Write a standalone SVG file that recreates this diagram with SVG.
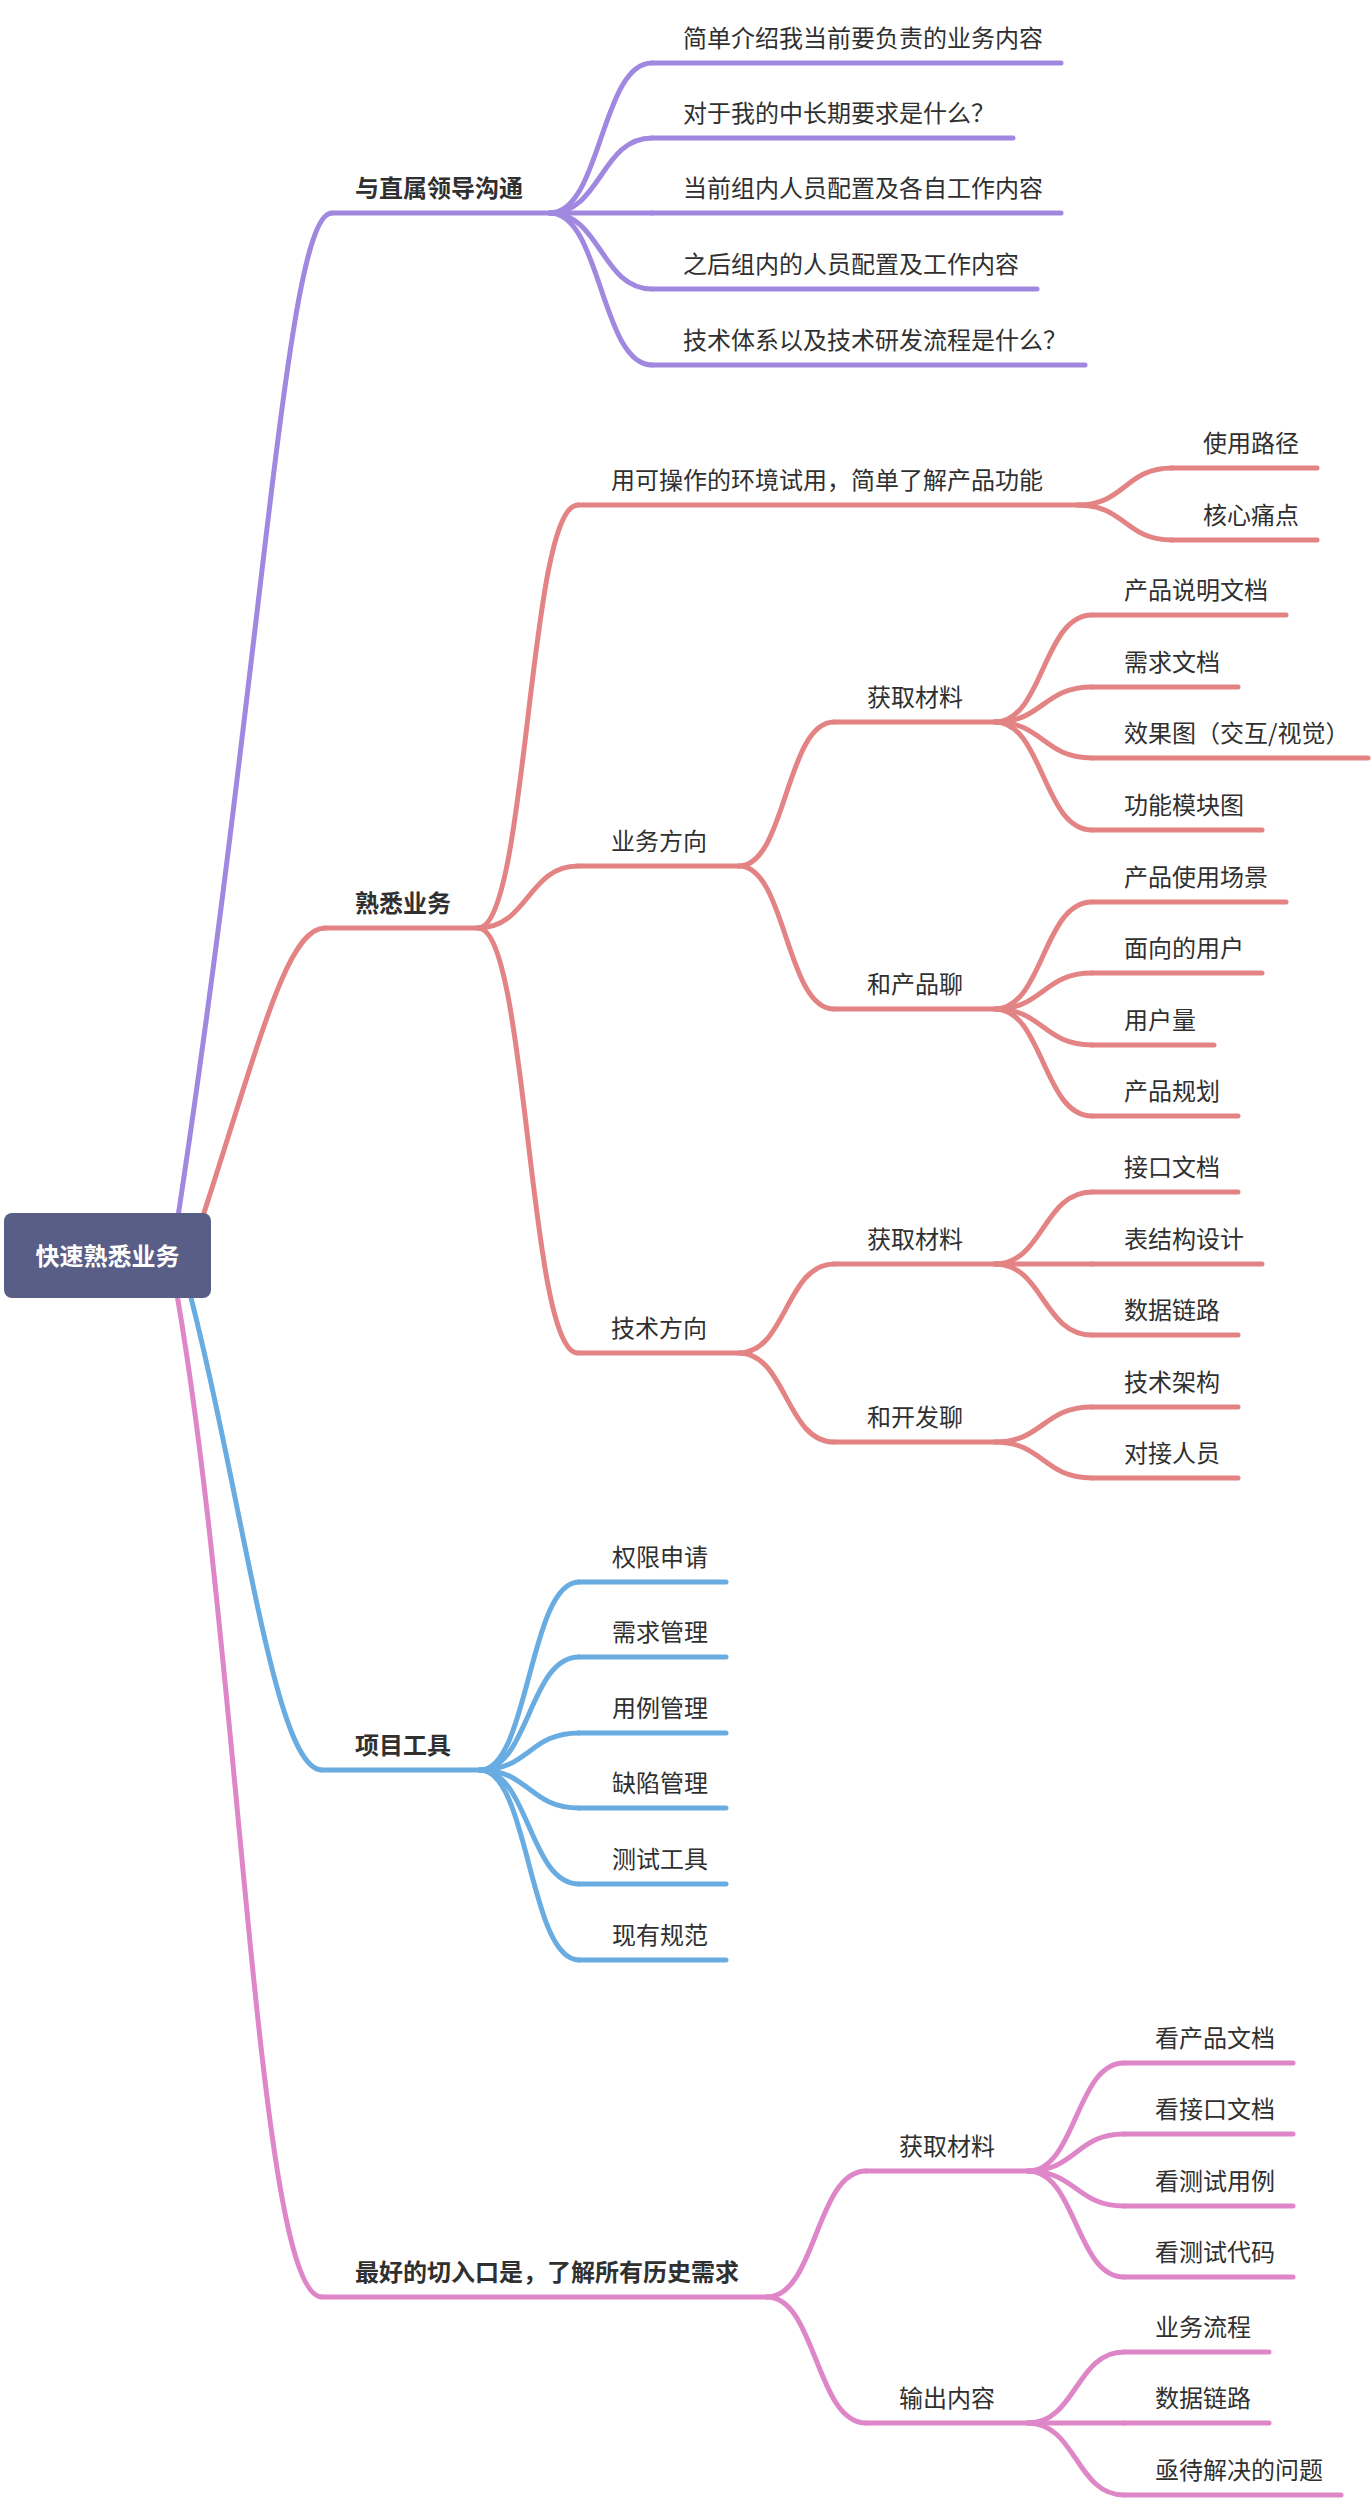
<svg xmlns="http://www.w3.org/2000/svg" width="1372" height="2504" viewBox="0 0 1372 2504">
<style>
.t{font-family:"Noto Sans CJK SC","Noto Sans",sans-serif;font-size:24px;fill:#303030}
.b{font-weight:bold}
.rt{font-family:"Noto Sans CJK SC","Noto Sans",sans-serif;font-size:24px;font-weight:bold;fill:#ffffff}
path,line{fill:none;stroke-width:5;stroke-linecap:round}
.pu{stroke:#a087e0}
.rd{stroke:#e48383}
.bl{stroke:#68ace2}
.pk{stroke:#de86c8}
</style>
<rect width="1372" height="2504" fill="#ffffff"/>
<g id="connectors">
<path class="pu" d="M172,1256 C265,656 285,213 332,213"/>
<path class="rd" d="M190,1256 C258,1050 285,928 325,928"/>
<path class="bl" d="M180,1256 C242,1480 272,1770 322,1770"/>
<path class="pk" d="M170,1256 C240,1620 255,2297 322,2297"/>
<path class="pu" d="M550,213 C601,213 601,63 652,63"/>
<path class="pu" d="M550,213 C601,213 601,138 652,138"/>
<path class="pu" d="M550,213 L652,213"/>
<path class="pu" d="M550,213 C601,213 601,289 652,289"/>
<path class="pu" d="M550,213 C601,213 601,365 652,365"/>
<path class="rd" d="M478,928 C528,928 528,505 578,505"/>
<path class="rd" d="M478,928 C528,928 528,866 578,866"/>
<path class="rd" d="M478,928 C528,928 528,1353 578,1353"/>
<path class="rd" d="M1078,505 C1125,505 1125,468 1172,468"/>
<path class="rd" d="M1078,505 C1125,505 1125,540 1172,540"/>
<path class="rd" d="M739,866 C786,866 786,722 834,722"/>
<path class="rd" d="M739,866 C786,866 786,1009 834,1009"/>
<path class="rd" d="M995,722 C1043,722 1043,615 1092,615"/>
<path class="rd" d="M995,722 C1043,722 1043,687 1092,687"/>
<path class="rd" d="M995,722 C1043,722 1043,758 1092,758"/>
<path class="rd" d="M995,722 C1043,722 1043,830 1092,830"/>
<path class="rd" d="M995,1009 C1043,1009 1043,902 1092,902"/>
<path class="rd" d="M995,1009 C1043,1009 1043,973 1092,973"/>
<path class="rd" d="M995,1009 C1043,1009 1043,1045 1092,1045"/>
<path class="rd" d="M995,1009 C1043,1009 1043,1116 1092,1116"/>
<path class="rd" d="M739,1353 C786,1353 786,1264 834,1264"/>
<path class="rd" d="M739,1353 C786,1353 786,1442 834,1442"/>
<path class="rd" d="M995,1264 C1043,1264 1043,1192 1092,1192"/>
<path class="rd" d="M995,1264 L1092,1264"/>
<path class="rd" d="M995,1264 C1043,1264 1043,1335 1092,1335"/>
<path class="rd" d="M995,1442 C1043,1442 1043,1407 1092,1407"/>
<path class="rd" d="M995,1442 C1043,1442 1043,1478 1092,1478"/>
<path class="bl" d="M480,1770 C529,1770 529,1582 579,1582"/>
<path class="bl" d="M480,1770 C529,1770 529,1657 579,1657"/>
<path class="bl" d="M480,1770 C529,1770 529,1733 579,1733"/>
<path class="bl" d="M480,1770 C529,1770 529,1808 579,1808"/>
<path class="bl" d="M480,1770 C529,1770 529,1884 579,1884"/>
<path class="bl" d="M480,1770 C529,1770 529,1960 579,1960"/>
<path class="pk" d="M767,2297 C816,2297 816,2171 866,2171"/>
<path class="pk" d="M767,2297 C816,2297 816,2423 866,2423"/>
<path class="pk" d="M1028,2171 C1076,2171 1076,2063 1124,2063"/>
<path class="pk" d="M1028,2171 C1076,2171 1076,2134 1124,2134"/>
<path class="pk" d="M1028,2171 C1076,2171 1076,2206 1124,2206"/>
<path class="pk" d="M1028,2171 C1076,2171 1076,2277 1124,2277"/>
<path class="pk" d="M1028,2423 C1076,2423 1076,2352 1124,2352"/>
<path class="pk" d="M1028,2423 L1124,2423"/>
<path class="pk" d="M1028,2423 C1076,2423 1076,2495 1124,2495"/>
</g>
<g id="root">
<rect x="4" y="1213" width="207" height="85" rx="8" fill="#585e85"/>
<text class="rt" x="107.5" y="1265" text-anchor="middle">快速熟悉业务</text>
</g>
<g id="n-leader"><path class="pu" d="M332,213 H550"/><text class="t b" x="355" y="197">与直属领导沟通</text></g>
<g id="n-leader-1"><path class="pu" d="M652,63 H1061"/><text class="t" x="683" y="47">简单介绍我当前要负责的业务内容</text></g>
<g id="n-leader-2"><path class="pu" d="M652,138 H1013"/><text class="t" x="683" y="122">对于我的中长期要求是什么？</text></g>
<g id="n-leader-3"><path class="pu" d="M652,213 H1061"/><text class="t" x="683" y="197">当前组内人员配置及各自工作内容</text></g>
<g id="n-leader-4"><path class="pu" d="M652,289 H1037"/><text class="t" x="683" y="273">之后组内的人员配置及工作内容</text></g>
<g id="n-leader-5"><path class="pu" d="M652,365 H1085"/><text class="t" x="683" y="349">技术体系以及技术研发流程是什么？</text></g>
<g id="n-biz"><path class="rd" d="M325,928 H478"/><text class="t b" x="355" y="912">熟悉业务</text></g>
<g id="n-trial"><path class="rd" d="M578,505 H1078"/><text class="t" x="611" y="489">用可操作的环境试用，简单了解产品功能</text></g>
<g id="n-trial-1"><path class="rd" d="M1172,468 H1317"/><text class="t" x="1203" y="452">使用路径</text></g>
<g id="n-trial-2"><path class="rd" d="M1172,540 H1317"/><text class="t" x="1203" y="524">核心痛点</text></g>
<g id="n-bizdir"><path class="rd" d="M578,866 H739"/><text class="t" x="611" y="850">业务方向</text></g>
<g id="n-bizmat"><path class="rd" d="M834,722 H995"/><text class="t" x="867" y="706">获取材料</text></g>
<g id="n-bizmat-1"><path class="rd" d="M1092,615 H1286"/><text class="t" x="1124" y="599">产品说明文档</text></g>
<g id="n-bizmat-2"><path class="rd" d="M1092,687 H1238"/><text class="t" x="1124" y="671">需求文档</text></g>
<g id="n-bizmat-3"><path class="rd" d="M1092,758 H1368"/><text class="t" x="1124" y="742">效果图（交互/视觉）</text></g>
<g id="n-bizmat-4"><path class="rd" d="M1092,830 H1262"/><text class="t" x="1124" y="814">功能模块图</text></g>
<g id="n-pm"><path class="rd" d="M834,1009 H995"/><text class="t" x="867" y="993">和产品聊</text></g>
<g id="n-pm-1"><path class="rd" d="M1092,902 H1286"/><text class="t" x="1124" y="886">产品使用场景</text></g>
<g id="n-pm-2"><path class="rd" d="M1092,973 H1262"/><text class="t" x="1124" y="957">面向的用户</text></g>
<g id="n-pm-3"><path class="rd" d="M1092,1045 H1214"/><text class="t" x="1124" y="1029">用户量</text></g>
<g id="n-pm-4"><path class="rd" d="M1092,1116 H1238"/><text class="t" x="1124" y="1100">产品规划</text></g>
<g id="n-techdir"><path class="rd" d="M578,1353 H739"/><text class="t" x="611" y="1337">技术方向</text></g>
<g id="n-techmat"><path class="rd" d="M834,1264 H995"/><text class="t" x="867" y="1248">获取材料</text></g>
<g id="n-techmat-1"><path class="rd" d="M1092,1192 H1238"/><text class="t" x="1124" y="1176">接口文档</text></g>
<g id="n-techmat-2"><path class="rd" d="M1092,1264 H1262"/><text class="t" x="1124" y="1248">表结构设计</text></g>
<g id="n-techmat-3"><path class="rd" d="M1092,1335 H1238"/><text class="t" x="1124" y="1319">数据链路</text></g>
<g id="n-dev"><path class="rd" d="M834,1442 H995"/><text class="t" x="867" y="1426">和开发聊</text></g>
<g id="n-dev-1"><path class="rd" d="M1092,1407 H1238"/><text class="t" x="1124" y="1391">技术架构</text></g>
<g id="n-dev-2"><path class="rd" d="M1092,1478 H1238"/><text class="t" x="1124" y="1462">对接人员</text></g>
<g id="n-tools"><path class="bl" d="M322,1770 H480"/><text class="t b" x="355" y="1754">项目工具</text></g>
<g id="n-tools-1"><path class="bl" d="M579,1582 H726"/><text class="t" x="612" y="1566">权限申请</text></g>
<g id="n-tools-2"><path class="bl" d="M579,1657 H726"/><text class="t" x="612" y="1641">需求管理</text></g>
<g id="n-tools-3"><path class="bl" d="M579,1733 H726"/><text class="t" x="612" y="1717">用例管理</text></g>
<g id="n-tools-4"><path class="bl" d="M579,1808 H726"/><text class="t" x="612" y="1792">缺陷管理</text></g>
<g id="n-tools-5"><path class="bl" d="M579,1884 H726"/><text class="t" x="612" y="1868">测试工具</text></g>
<g id="n-tools-6"><path class="bl" d="M579,1960 H726"/><text class="t" x="612" y="1944">现有规范</text></g>
<g id="n-entry"><path class="pk" d="M322,2297 H767"/><text class="t b" x="355" y="2281">最好的切入口是，了解所有历史需求</text></g>
<g id="n-entmat"><path class="pk" d="M866,2171 H1028"/><text class="t" x="899" y="2155">获取材料</text></g>
<g id="n-entmat-1"><path class="pk" d="M1124,2063 H1293"/><text class="t" x="1155" y="2047">看产品文档</text></g>
<g id="n-entmat-2"><path class="pk" d="M1124,2134 H1293"/><text class="t" x="1155" y="2118">看接口文档</text></g>
<g id="n-entmat-3"><path class="pk" d="M1124,2206 H1293"/><text class="t" x="1155" y="2190">看测试用例</text></g>
<g id="n-entmat-4"><path class="pk" d="M1124,2277 H1293"/><text class="t" x="1155" y="2261">看测试代码</text></g>
<g id="n-output"><path class="pk" d="M866,2423 H1028"/><text class="t" x="899" y="2407">输出内容</text></g>
<g id="n-output-1"><path class="pk" d="M1124,2352 H1269"/><text class="t" x="1155" y="2336">业务流程</text></g>
<g id="n-output-2"><path class="pk" d="M1124,2423 H1269"/><text class="t" x="1155" y="2407">数据链路</text></g>
<g id="n-output-3"><path class="pk" d="M1124,2495 H1341"/><text class="t" x="1155" y="2479">亟待解决的问题</text></g>
</svg>
